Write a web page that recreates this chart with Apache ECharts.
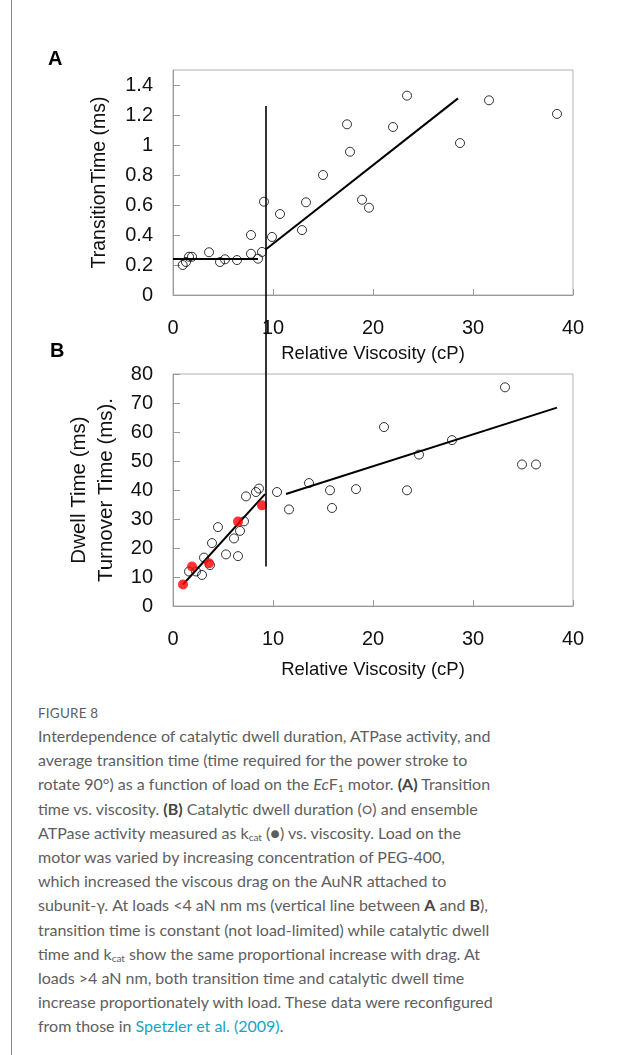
<!DOCTYPE html>
<html>
<head>
<meta charset="utf-8">
<script src="https://cdn.jsdelivr.net/npm/echarts@6/dist/echarts.min.js"></script>
<style>
  html, body { margin: 0; padding: 0; background: #fff; }
  #page { position: relative; width: 622px; height: 1055px; overflow: hidden; }
  #rule { position: absolute; left: 11px; top: 0; width: 1px; height: 1055px; background: #8a8a8a; }
  #chart { position: absolute; left: 0; top: 0; width: 622px; height: 700px; }
  #caption { position: absolute; left: 38px; top: 703px; width: 580px; font-family: Lato, 'Open Sans', sans-serif; color: #5e5e5e; white-space: nowrap; }
  #caption .fig { font-size: 13.5px; line-height: 21px; letter-spacing: 0.2px; }
  #caption .txt { font-size: 16px; line-height: 24.2px; }
  #caption b { font-weight: bold; color: #444; }
  #caption sub { font-size: 10px; vertical-align: -2px; line-height: 0; }
  #caption .ref { color: #1aa3c4; }
</style>
</head>
<body>
<div id="page">
  <div id="rule"></div>
  <div id="chart"></div>
  <div id="caption">
    <div class="fig">FIGURE 8</div>
    <div class="txt">Interdependence of catalytic dwell duration, ATPase activity, and<br>
average transition time (time required for the power stroke to<br>
rotate 90°) as a function of load on the <i>Ec</i>F<sub>1</sub> motor. <b>(A)</b> Transition<br>
time vs. viscosity. <b>(B)</b> Catalytic dwell duration (○) and ensemble<br>
ATPase activity measured as k<sub>cat</sub> (●) vs. viscosity. Load on the<br>
motor was varied by increasing concentration of PEG-400,<br>
which increased the viscous drag on the AuNR attached to<br>
subunit-γ. At loads &lt;4 aN nm ms (vertical line between <b>A</b> and <b>B</b>),<br>
transition time is constant (not load-limited) while catalytic dwell<br>
time and k<sub>cat</sub> show the same proportional increase with drag. At<br>
loads &gt;4 aN nm, both transition time and catalytic dwell time<br>
increase proportionately with load. These data were reconfigured<br>
from those in <span class="ref">Spetzler et al. (2009)</span>.</div>
  </div>
</div>
<script>
// panel A: transition time vs relative viscosity
const aViscosity = [0.97, 1.3, 1.6, 1.9, 3.6, 4.7, 5.2, 6.4, 7.8, 7.8, 8.5, 8.9, 9.1, 9.9, 10.7, 12.9, 13.3, 15.0, 17.4, 17.7, 18.9, 19.6, 22.0, 23.4, 28.7, 31.6, 38.4]
const aTransition = [0.20, 0.22, 0.255, 0.255, 0.285, 0.22, 0.238, 0.233, 0.40, 0.275, 0.242, 0.287, 0.622, 0.387, 0.54, 0.433, 0.618, 0.80, 1.138, 0.955, 0.635, 0.582, 1.12, 1.329, 1.013, 1.298, 1.207]
const aFlatFitX = [0, 8.5]
const aFlatFitY = [0.24, 0.24]
const aSlopeFitX = [9.3, 28.5]
const aSlopeFitY = [0.305, 1.311]
// vertical divider, drawn on panel A and running down through panel B
const dividerX = [9.3, 9.3]
const dividerY = [1.26, -1.81]

// panel B: dwell time (open) and turnover time (red) vs relative viscosity
const bViscosity = [1.6, 2.3, 2.9, 3.1, 3.7, 3.9, 4.5, 5.3, 6.1, 6.5, 6.7, 7.1, 7.3, 8.3, 8.6, 10.4, 11.6, 13.6, 15.7, 15.9, 18.3, 21.1, 23.4, 24.6, 27.9, 33.2, 34.9, 36.3]
const bDwell = [11.9, 11.9, 10.7, 16.7, 14.1, 21.7, 27.2, 17.8, 23.3, 17.2, 25.9, 29.2, 37.8, 39.3, 40.5, 39.3, 33.3, 42.4, 39.9, 33.8, 40.3, 61.7, 39.9, 52.2, 57.2, 75.4, 48.8, 48.8]
const bKcatViscosity = [1.0, 1.9, 3.6, 6.5, 8.9]
const bTurnover = [7.4, 13.6, 14.7, 29.1, 34.7]
const bLowFitX = [1.0, 9.2]
const bLowFitY = [7.4, 38.6]
const bHighFitX = [11.3, 38.4]
const bHighFitY = [38.6, 68.4]

function pairs (xs, ys) {
  let out = []
  for (let i = 0; i < xs.length; i++) {
    out.push([xs[i], ys[i]])
  }
  return out
}

const font = "'Liberation Sans', Arial, sans-serif"
const axisGray = '#9a9a9a'

function xAxisFor (idx, gap) {
  return {
    gridIndex: idx,
    type: 'value',
    min: 0,
    max: 40,
    interval: 10,
    name: 'Relative Viscosity (cP)',
    nameLocation: 'middle',
    nameGap: gap,
    nameTextStyle: { fontFamily: font, fontSize: 18.5, color: '#111' },
    axisLine: { lineStyle: { color: axisGray, width: 1 } },
    axisTick: { show: true, inside: true, length: 6, lineStyle: { color: axisGray } },
    axisLabel: { fontFamily: font, fontSize: 20, color: '#111', margin: 23 },
    splitLine: { show: false }
  }
}

const lineStyle = { color: '#000', width: 2 }

const chart = echarts.init(document.getElementById('chart'), null, { renderer: 'canvas' })
chart.setOption({
  animation: false,
  graphic: [
    { type: 'text', left: 48, top: 49, style: { text: 'A', font: 'bold 20px ' + font, fill: '#000' } },
    { type: 'text', left: 50, top: 341, style: { text: 'B', font: 'bold 20px ' + font, fill: '#000' } }
  ],
  grid: [
    { left: 173, top: 70, width: 400, height: 225, show: true, borderColor: '#b0b0b0', borderWidth: 1 },
    { left: 173, top: 374, width: 400, height: 232, show: true, borderColor: '#b0b0b0', borderWidth: 1 }
  ],
  xAxis: [xAxisFor(0, 49), xAxisFor(1, 54)],
  yAxis: [
    {
      gridIndex: 0,
      type: 'value',
      min: 0,
      max: 1.5,
      interval: 0.2,
      name: 'TransitionTime (ms)',
      nameLocation: 'middle',
      nameRotate: 90,
      nameGap: 63,
      nameTextStyle: { fontFamily: font, fontSize: 19.5, color: '#111' },
      axisLine: { show: true, lineStyle: { color: axisGray } },
      axisTick: { show: true, inside: true, length: 7, lineStyle: { color: axisGray } },
      axisLabel: { fontFamily: font, fontSize: 20, color: '#111', margin: 20, showMaxLabel: false },
      splitLine: { show: false }
    },
    {
      gridIndex: 1,
      type: 'value',
      min: 0,
      max: 80,
      interval: 10,
      name: 'Dwell Time (ms)\nTurnover Time (ms).',
      nameLocation: 'middle',
      nameRotate: 90,
      nameGap: 53,
      nameTextStyle: { fontFamily: font, fontSize: 20.5, color: '#111', lineHeight: 27 },
      axisLine: { show: true, lineStyle: { color: axisGray } },
      axisTick: { show: true, inside: true, length: 7, lineStyle: { color: axisGray } },
      axisLabel: { fontFamily: font, fontSize: 20, color: '#111', margin: 20 },
      splitLine: { show: false }
    }
  ],
  series: [
    {
      name: 'transition',
      type: 'scatter',
      xAxisIndex: 0,
      yAxisIndex: 0,
      data: pairs(aViscosity, aTransition),
      symbol: 'circle',
      symbolSize: 9,
      itemStyle: { color: 'rgba(255,255,255,0)', borderColor: '#000', borderWidth: 1 }
    },
    {
      type: 'line',
      xAxisIndex: 0,
      yAxisIndex: 0,
      data: pairs(aFlatFitX, aFlatFitY),
      showSymbol: false,
      lineStyle: lineStyle
    },
    {
      type: 'line',
      xAxisIndex: 0,
      yAxisIndex: 0,
      data: pairs(aSlopeFitX, aSlopeFitY),
      showSymbol: false,
      lineStyle: lineStyle
    },
    {
      type: 'line',
      xAxisIndex: 0,
      yAxisIndex: 0,
      data: pairs(dividerX, dividerY),
      showSymbol: false,
      clip: false,
      z: 5,
      lineStyle: { color: '#000', width: 1.6 }
    },
    {
      name: 'dwell',
      type: 'scatter',
      xAxisIndex: 1,
      yAxisIndex: 1,
      data: pairs(bViscosity, bDwell),
      symbol: 'circle',
      symbolSize: 9,
      itemStyle: { color: 'rgba(255,255,255,0)', borderColor: '#000', borderWidth: 1 }
    },
    {
      name: 'turnover',
      type: 'scatter',
      xAxisIndex: 1,
      yAxisIndex: 1,
      data: pairs(bKcatViscosity, bTurnover),
      symbol: 'circle',
      symbolSize: 10,
      z: 3,
      itemStyle: { color: '#ff0000', borderWidth: 0 }
    },
    {
      type: 'line',
      xAxisIndex: 1,
      yAxisIndex: 1,
      data: pairs(bLowFitX, bLowFitY),
      showSymbol: false,
      lineStyle: lineStyle
    },
    {
      type: 'line',
      xAxisIndex: 1,
      yAxisIndex: 1,
      data: pairs(bHighFitX, bHighFitY),
      showSymbol: false,
      lineStyle: lineStyle
    }
  ]
})
</script>
</body>
</html>
